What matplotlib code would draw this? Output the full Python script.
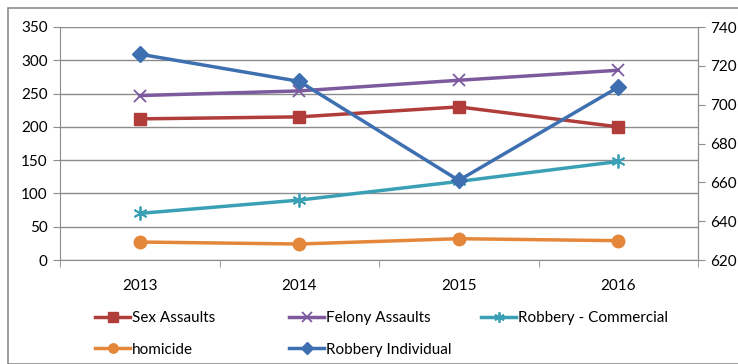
import matplotlib.pyplot as plt
from matplotlib.patches import Rectangle

plt.rcParams['font.family'] = ['Lato', 'DejaVu Sans']

years = ['2013', '2014', '2015', '2016']
sex_assaults = [212, 215, 230, 200]
felony_assaults = [247, 254, 270, 285]
robbery_commercial = [70, 90, 118, 148]
homicide = [27, 24, 32, 29]
robbery_individual = [726, 712, 661, 709]  # right axis

W, H = 738, 364
fig = plt.figure(figsize=(W / 100, H / 100), dpi=100)
fig.patches.append(Rectangle((8 / W, 0), 1, 1 - 8 / H, transform=fig.transFigure,
                             fill=False, edgecolor='#8c8c8c', linewidth=1.2))

ax = fig.add_axes([60 / W, 1 - 260 / H, 638 / W, 233 / H])
ax2 = ax.twinx()

x = range(len(years))
ax.plot(x, sex_assaults, color='#b03d3a', lw=2.5, marker='s', ms=9, label='Sex Assaults')
ax.plot(x, felony_assaults, color='#7d5a9e', lw=2.5, marker='x', ms=9, mew=1.3, label='Felony Assaults')
ax.plot(x, robbery_commercial, color='#3aa0b5', lw=2.5, marker=(6, 2, 0), ms=10, mew=1.3,
        label='Robbery - Commercial')
ax.plot(x, homicide, color='#e5873a', lw=2.5, marker='o', ms=9, label='homicide')
ax2.plot(x, robbery_individual, color='#3e6fb0', lw=2.5, marker='D', ms=8, label='Robbery Individual')

ax.set_xlim(-0.5, len(years) - 0.5)
ax.set_ylim(0, 350)
ax.set_yticks(range(0, 351, 50))
ax2.set_ylim(620, 740)
ax2.set_yticks(range(620, 741, 20))
ax.set_xticks(x)
ax.set_xticklabels(years)
ax.set_xticks([i - 0.5 for i in range(len(years) + 1)], minor=True)
ax.tick_params(axis='x', which='major', length=0, pad=14, labelsize=11)
ax.tick_params(axis='x', which='minor', length=5, color='#8c8c8c', direction='out')
ax.tick_params(axis='y', length=5, color='#8c8c8c', labelsize=11, pad=4)
ax2.tick_params(axis='y', length=5, color='#8c8c8c', labelsize=11, pad=4)
ax.yaxis.grid(True, color='#8c8c8c', lw=1)
ax.set_axisbelow(True)

for a in (ax, ax2):
    a.spines['top'].set_visible(False)
    for s in ('left', 'right', 'bottom'):
        a.spines[s].set_color('#8c8c8c')
ax2.spines['left'].set_visible(False)
ax2.spines['bottom'].set_visible(False)

# legend laid out as three fixed-width columns below the plot
h1, l1 = ax.get_legend_handles_labels()
h2, l2 = ax2.get_legend_handles_labels()
columns = [([h1[0], h1[3]], [l1[0], l1[3]]),
           ([h1[1], h2[0]], [l1[1], l2[0]]),
           ([h1[2]], [l1[2]])]
for (hs, ls), left in zip(columns, [95, 289, 481]):
    fig.legend(hs, ls, loc='upper left', bbox_to_anchor=(left / W, 1 - 311 / H),
               frameon=False, fontsize=11, handlelength=2.3, handletextpad=0.1,
               labelspacing=1.15, borderpad=0, borderaxespad=0, markerscale=0.75)

fig.savefig('out.png', dpi=100)
